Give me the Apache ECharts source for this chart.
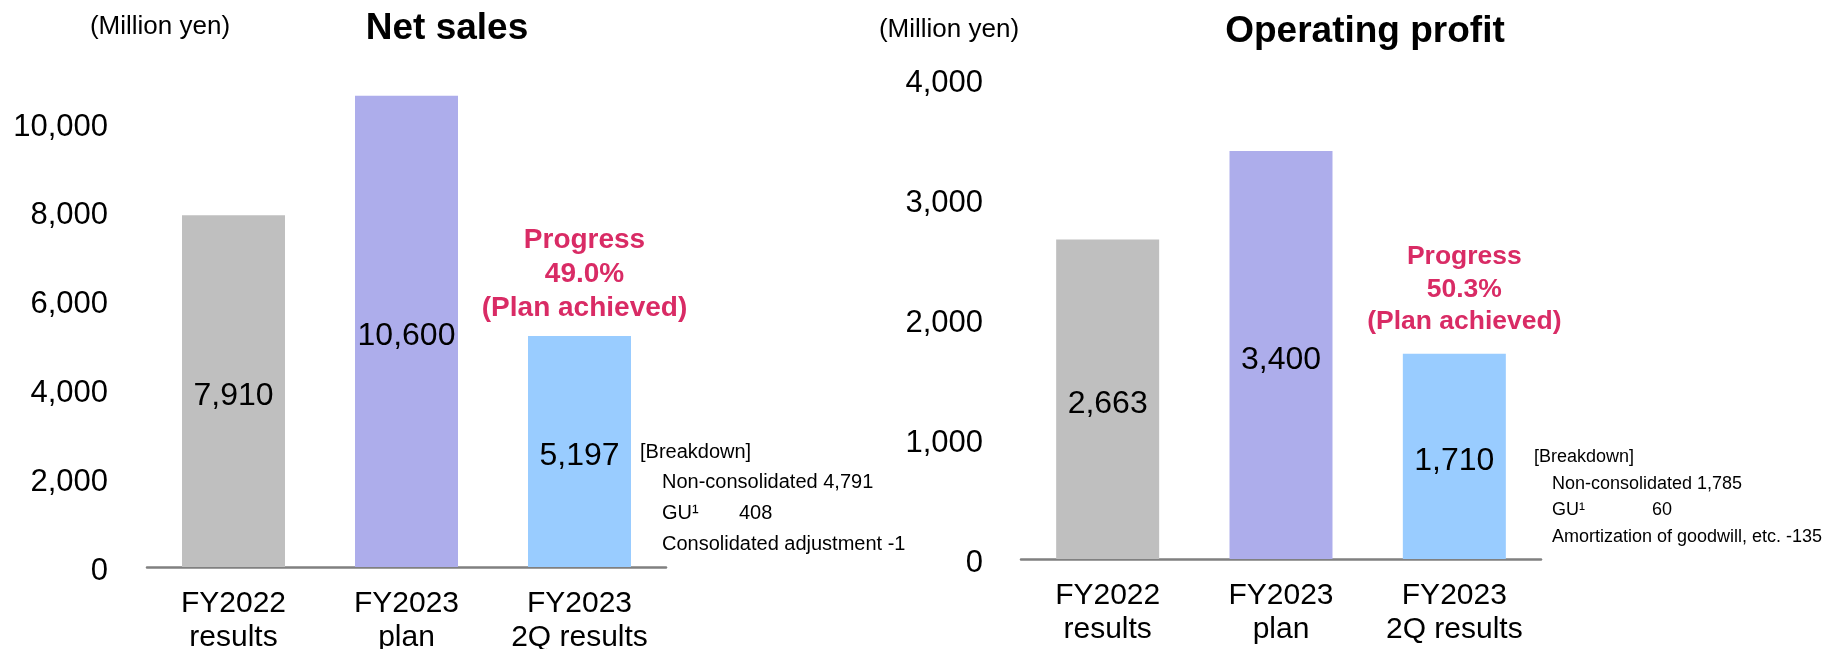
<!DOCTYPE html>
<html>
<head>
<meta charset="utf-8">
<script src="https://cdn.jsdelivr.net/npm/echarts@6/dist/echarts.min.js"></script>
<style>
html,body{margin:0;padding:0;background:#fff;}
#c{width:1840px;height:649px;}
</style>
</head>
<body>
<div id="c"></div>
<script>
// ---- data ----
const categories = ['FY2022\nresults', 'FY2023\nplan', 'FY2023\n2Q results'];
const netSales = [7910, 10600, 5197];
const operatingProfit = [2663, 3400, 1710];
const barColors = ['#BFBFBF', '#ADADEB', '#99CCFF'];
const netSalesTicks = [0, 2000, 4000, 6000, 8000, 10000];
const opTicks = [0, 1000, 2000, 3000, 4000];
const netSalesProgress = ['Progress', '49.0%', '(Plan achieved)'];
const opProgress = ['Progress', '50.3%', '(Plan achieved)'];
const netSalesBreakdown = [['Non-consolidated 4,791', ''], ['GU\u00B9', '408'], ['Consolidated adjustment -1', '']];
const opBreakdown = [['Non-consolidated 1,785', ''], ['GU\u00B9', '60'], ['Amortization of goodwill, etc. -135', '']];
const titles = ['Net sales', 'Operating profit'];
const unitLabel = '(Million yen)';

const FONT = '"Liberation Sans", Arial, sans-serif';
const fmt = v => v.toLocaleString('en-US');
const pink = '#D92B65';

const chart = echarts.init(document.getElementById('c'), null, {renderer: 'canvas'});

function barSeries(idx, values, progress, fs, lh, dist, offX) {
  return {
    type: 'bar',
    xAxisIndex: idx, yAxisIndex: idx,
    barWidth: 103,
    data: values.map((v, i) => ({value: v, itemStyle: {color: barColors[i]}})),
    label: {
      show: true, position: 'inside', color: '#000', fontSize: 32, fontFamily: FONT,
      offset: [0, 5],
      formatter: p => fmt(p.value)
    },
    markPoint: {
      symbol: 'rect', symbolSize: [1, 1], itemStyle: {color: 'transparent'},
      silent: true, animation: false,
      data: [{coord: [2, values[2]]}],
      label: {
        show: true, position: 'top', distance: dist, offset: [offX, 0],
        formatter: progress.join('\n'), color: pink, fontWeight: 'bold',
        fontSize: fs, lineHeight: lh, fontFamily: FONT, align: 'center'
      }
    },
    animation: false
  };
}

function xAxis(idx) {
  return {
    type: 'category', gridIndex: idx, data: categories,
    axisLine: {show: true, lineStyle: {color: '#808080', width: 2.5}},
    axisTick: {show: false},
    axisLabel: {color: '#000', fontSize: 30, lineHeight: 34, fontFamily: FONT, margin: 20, interval: 0}
  };
}

function yAxis(idx, max, interval, margin, ticks) {
  return {
    type: 'value', gridIndex: idx, min: 0, max: max, interval: interval,
    axisLine: {show: false}, axisTick: {show: false}, splitLine: {show: false},
    axisLabel: {
      color: '#000', fontSize: 31, fontFamily: FONT, margin: margin,
      formatter: v => ticks.indexOf(v) >= 0 ? '{t|' + fmt(v) + '}' : '',
      rich: {t: {fontSize: 31, fontFamily: FONT, color: '#000', padding: [9, 0, 0, 0]}}
    }
  };
}

function textEl(x, y, txt, fs, opts) {
  return {
    type: 'text', x: x, y: y, silent: true,
    style: Object.assign({
      text: txt, fontSize: fs, fontFamily: FONT, fill: '#000',
      textAlign: 'left', textVerticalAlign: 'middle'
    }, (opts && opts.style) || {})
  };
}

const graphics = [];
// titles and units
graphics.push(textEl(447, 29, titles[0], 37, {style: {fontWeight: 'bold', textAlign: 'center'}}));
graphics.push(textEl(1365, 32, titles[1], 37, {style: {fontWeight: 'bold', textAlign: 'center'}}));
graphics.push(textEl(160, 27, unitLabel, 26, {style: {textAlign: 'center'}}));
graphics.push(textEl(949, 30, unitLabel, 26, {style: {textAlign: 'center'}}));
// breakdown left
graphics.push(textEl(640, 452, '[Breakdown]', 20));
netSalesBreakdown.forEach((row, i) => {
  graphics.push(textEl(662, 482 + i * 31, row[0], 20));
  if (row[1]) graphics.push(textEl(739, 482 + i * 31, row[1], 20));
});
// breakdown right
graphics.push(textEl(1534, 457, '[Breakdown]', 18));
opBreakdown.forEach((row, i) => {
  graphics.push(textEl(1552, 484 + i * 26.5, row[0], 18));
  if (row[1]) graphics.push(textEl(1652, 484 + i * 26.5, row[1], 18));
});

chart.setOption({
  animation: false,
  backgroundColor: '#fff',
  textStyle: {fontFamily: FONT},
  grid: [
    {left: 147, width: 519, top: 78, height: 489, containLabel: false, outerBoundsMode: 'none'},
    {left: 1021, width: 520, top: 79, height: 480, containLabel: false, outerBoundsMode: 'none'}
  ],
  xAxis: [xAxis(0), xAxis(1)],
  yAxis: [yAxis(0, 11000, 1000, 39, netSalesTicks), yAxis(1, 4000, 1000, 38, opTicks)],
  series: [
    barSeries(0, netSales, netSalesProgress, 28, 34, 10, 5),
    barSeries(1, operatingProfit, opProgress, 26.5, 32.5, 15, 10)
  ],
  graphic: graphics
});
</script>
</body>
</html>
